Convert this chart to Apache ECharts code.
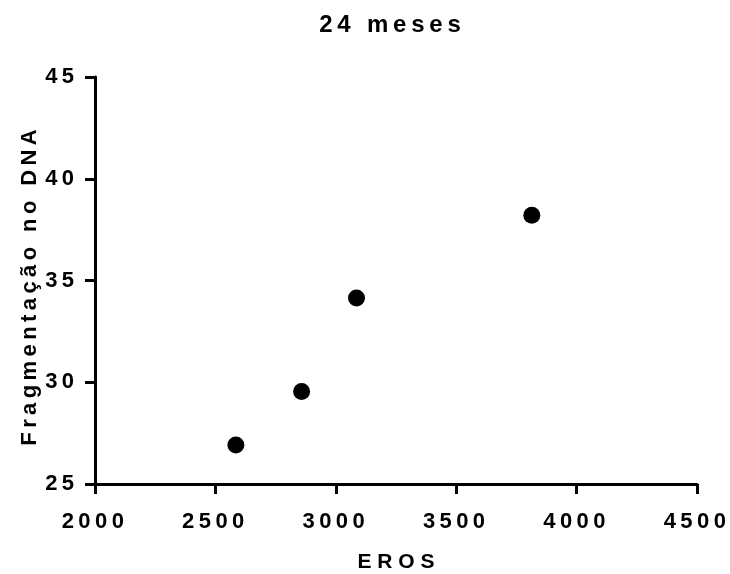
<!DOCTYPE html>
<html>
<head>
<meta charset="utf-8">
<script src="https://cdn.jsdelivr.net/npm/echarts@6/dist/echarts.min.js"></script>
<style>
  html, body { margin: 0; padding: 0; background: #fff; }
  #chart { width: 730px; height: 574px; }
</style>
</head>
<body>
<div id="chart"></div>
<script>
(()=>{
    "use strict";
    // values
    const titleText = '24 meses';
    const xName = 'EROS';
    const yName = 'Fragmentação no DNA';
    const erosValues = [2585, 2858, 3086, 3814];
    const fragValues = [26.92, 29.55, 34.14, 38.21];

    // the original uses wide letter spacing; thin spaces between chars give the same look
    const spaced = (s, gap) => s.split('').join(gap || '\u2009');
    const font = '"Liberation Sans", Arial, sans-serif';

    let _chart = echarts.init(document.getElementById('chart'), null, {renderer: 'canvas'});
    let _chartOption = {
        "animation": false,
        "title": {"text": spaced(titleText), "left": 385, "top": 8, "textAlign": "center",
            "textStyle": {"fontFamily": font, "fontWeight": "bold", "fontSize": 24, "color": "#000"}},
        "grid": {"left": 95, "right": 33, "top": 77, "bottom": 90, "containLabel": false, "outerBoundsMode": "none"},
        "xAxis": {
            "type": "value", "min": 2000, "max": 4500, "interval": 500,
            "name": spaced(xName, ' '), "nameLocation": "middle", "nameGap": 68, "nameMoveOverlap": false,
            "nameTextStyle": {"fontFamily": font, "fontWeight": "bold", "fontSize": 21, "color": "#000"},
            "axisLine": {"show": true, "onZero": false, "lineStyle": {"color": "#000", "width": 3}},
            "axisTick": {"show": true, "inside": false, "length": 10, "lineStyle": {"color": "#000", "width": 3}},
            "axisLabel": {"margin": 27, "fontFamily": font, "fontWeight": "bold", "fontSize": 22, "color": "#000",
                "formatter": v => spaced(String(v)) + '\u2009'},
            "splitLine": {"show": false}
        },
        "yAxis": {
            "type": "value", "min": 25, "max": 45, "interval": 5,
            "name": spaced(yName), "nameLocation": "middle", "nameGap": 54, "nameRotate": 90, "nameMoveOverlap": false,
            "nameTextStyle": {"fontFamily": font, "fontWeight": "bold", "fontSize": 22, "color": "#000",
                "padding": [0, 14, 0, 0]},
            "axisLine": {"show": true, "onZero": false, "lineStyle": {"color": "#000", "width": 3}},
            "axisTick": {"show": true, "inside": false, "length": 10, "lineStyle": {"color": "#000", "width": 3}},
            "axisLabel": {"margin": 21, "fontFamily": font, "fontWeight": "bold", "fontSize": 22, "color": "#000",
                "formatter": v => spaced(String(v))},
            "splitLine": {"show": false}
        },
        "series": [{
            "type": "scatter", "symbol": "circle", "symbolSize": 17,
            "itemStyle": {"color": "#000", "opacity": 1},
            "data": erosValues.map((x, i) => [x, fragValues[i]])
        }]
    };
    _chart.setOption(_chartOption);
})();
</script>
</body>
</html>
